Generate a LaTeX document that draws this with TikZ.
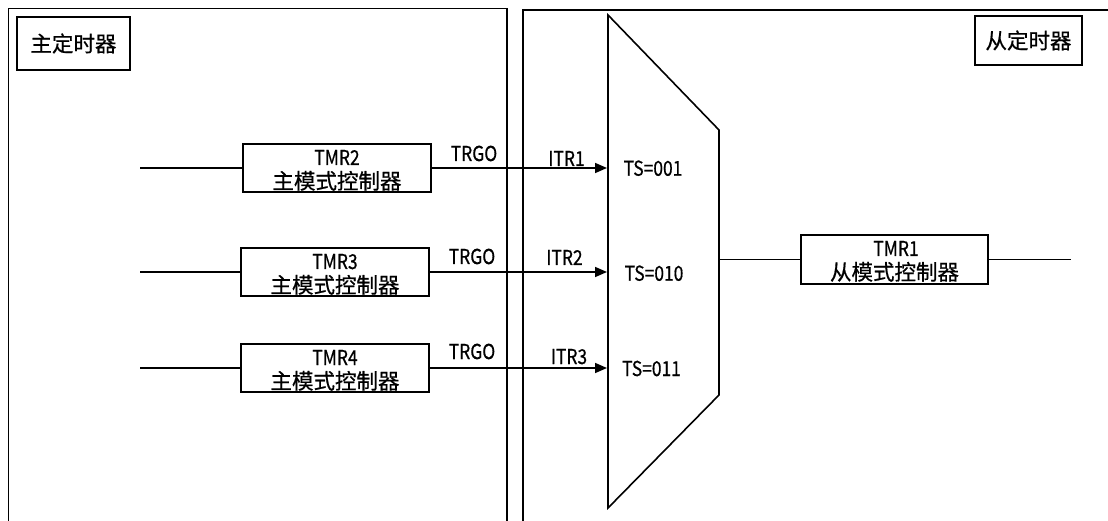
\documentclass[tikz,border=0pt]{standalone}
\usepackage{fontspec}
\setmainfont{Noto Sans CJK SC}[FakeBold=0.6]
\newfontfamily\lat{Noto Sans CJK SC}[FakeStretch=0.85,FakeBold=0.6]
\usetikzlibrary{arrows.meta}
\begin{document}
\begin{tikzpicture}[x=1pt,y=-1pt,
  ln/.style={line width=1.6pt},
  blk/.style={draw,line width=1.6pt,minimum width=188pt,minimum height=48pt,inner sep=0pt},
  ttl/.style={draw,line width=1.6pt,inner sep=0pt,font=\fontsize{21.5}{24}\selectfont},
  cj/.style={anchor=base,inner sep=0pt,font=\fontsize{21.5}{24}\selectfont},
  lt/.style={anchor=base,inner sep=0pt,font=\lat\fontsize{20.5}{22}\selectfont},
  arr/.style={ln,-{Triangle[length=12pt,width=10pt]}}]
\useasboundingbox (0,0) rectangle (1108,521);
\clip (0,0) rectangle (1108,521);
\fill[white] (0,0) rectangle (1108,521);
% frames
\draw[ln] (8.5,530) -- (8.5,8.5) -- (507,8.5) -- (507,530);
\draw[ln] (523,530) -- (523,10) -- (1120,10);
% titles
\node[ttl,minimum width=113pt,minimum height=53pt] (mt) at (73.5,43.5) {主定时器};
\node[ttl,minimum width=107pt,minimum height=49pt] (st) at (1028.5,40.5) {从定时器};
% mux
\draw[ln,line join=miter] (608,15) -- (719,130) -- (719,395) -- (608,508) -- cycle;
\coordinate (i1) at (607,168);
\coordinate (i2) at (607,272);
\coordinate (i3) at (607,368);
\coordinate (mo) at (719,259.5);
% master boxes
\node[blk] (b2) at (337,168) {};
\node[blk] (b3) at (335,272) {};
\node[blk] (b4) at (335,368) {};
\node[lt] (b2a) at (337,165) {TMR2};
\node[cj] (b2b) at (337,189) {主模式控制器};
\node[lt] (b3a) at (335,269) {TMR3};
\node[cj] (b3b) at (335,293) {主模式控制器};
\node[lt] (b4a) at (335,365) {TMR4};
\node[cj] (b4b) at (335,389) {主模式控制器};
% inputs
\coordinate (in2) at (140,168);
\coordinate (in3) at (140,272);
\coordinate (in4) at (140,368);
\draw[ln] (in2) -- (b2);
\draw[ln] (in3) -- (b3);
\draw[ln] (in4) -- (b4);
% trigger arrows
\draw[arr] (b2) -- (i1);
\draw[arr] (b3) -- (i2);
\draw[arr] (b4) -- (i3);
% labels
\node[lt] (t1) at (474,161) {TRGO};
\node[lt] (t2) at (472,264) {TRGO};
\node[lt] (t3) at (472,359) {TRGO};
\node[lt] (r1) at (566.5,166) {ITR1};
\node[lt] (r2) at (564.5,265) {ITR2};
\node[lt] (r3) at (569,364) {ITR3};
\node[lt] (s1) at (653,175.7) {TS=001};
\node[lt] (s2) at (654,280.7) {TS=010};
\node[lt] (s3) at (651.5,376) {TS=011};
% slave
\node[blk,minimum width=187pt,minimum height=49pt] (b1) at (894.5,259.5) {};
\node[lt] (b1a) at (896,256) {TMR1};
\node[cj] (b1b) at (894.5,280) {从模式控制器};
\coordinate (oc) at (1071,259.5);
\draw[ln] (mo) -- (b1);
\draw[ln] (b1) -- (oc);
\end{tikzpicture}
\end{document}
